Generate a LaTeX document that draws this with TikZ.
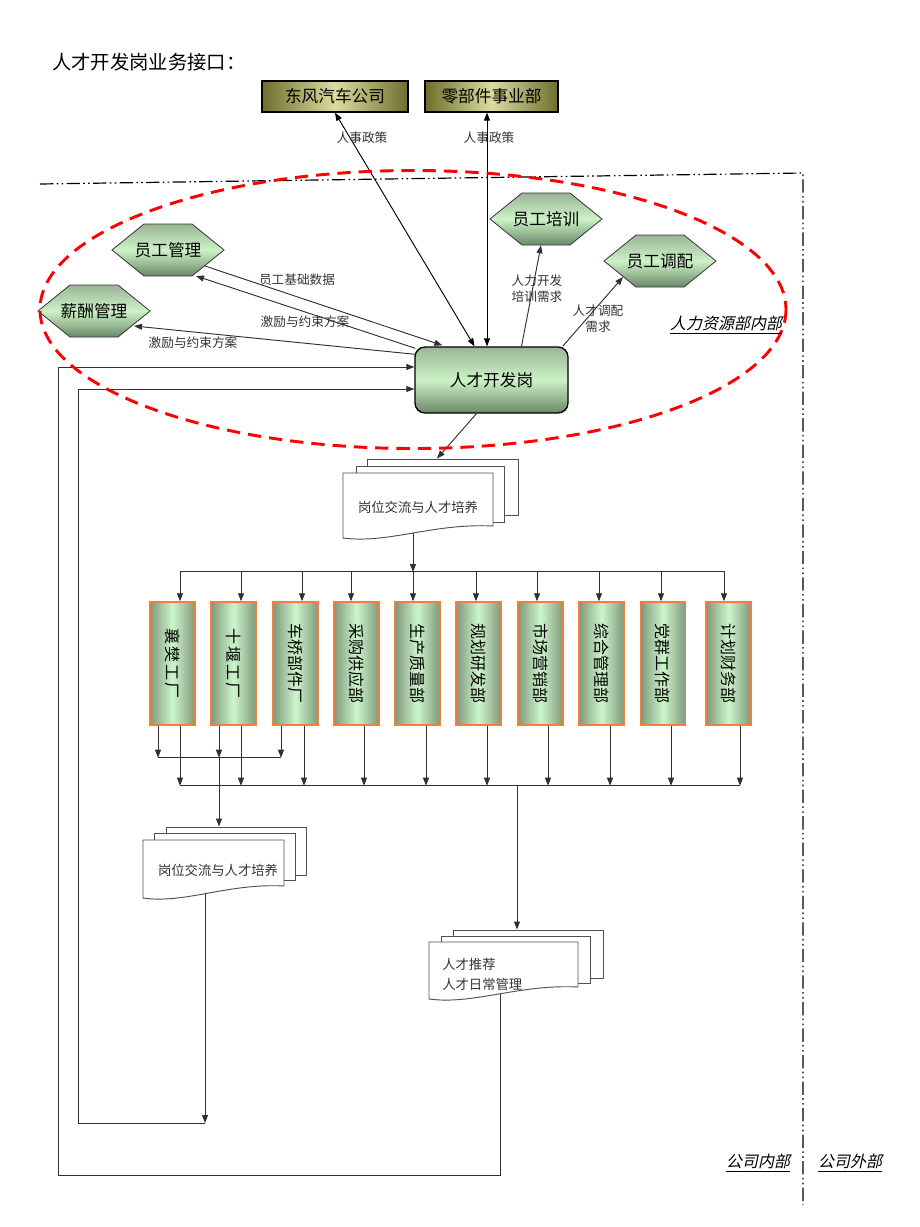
\documentclass[tikz,border=0pt]{standalone}
\usepackage{fontspec}
\setmainfont{Noto Sans CJK SC}
\newfontfamily\slantcjk[FakeSlant=0.22]{Noto Sans CJK SC}
\newfontfamily\widecjk[LetterSpace=14]{Noto Sans CJK SC}
\usetikzlibrary{arrows.meta,calc,backgrounds}
\definecolor{olivedark}{HTML}{6E6E2C}
\definecolor{olivelight}{HTML}{DCDCA0}
\definecolor{gdark}{HTML}{6A8868}
\definecolor{gmid}{HTML}{9AB596}
\definecolor{glight}{HTML}{CCF2C6}
\definecolor{coldark}{HTML}{7E987C}
\definecolor{collight}{HTML}{CDF5CB}
\definecolor{colorange}{HTML}{F0803C}
\definecolor{linegray}{HTML}{303030}
\definecolor{txtgray}{HTML}{333333}
\definecolor{docgray}{HTML}{505050}
\newcommand{\hexat}[4]{%
  \path[hexshape] (#2-56,#3) -- ++(32,-26) -- ++(48,0) -- ++(32,26) -- ++(-32,26) -- ++(-48,0) -- cycle;
  \node[hextext] (#1) at (#2,#3) {#4};}
\newcommand{\docfront}[4]{%
  \path[docshape] (#1,#2) -- (#3,#2) -- (#3,#4-12) .. controls ({#1+0.6*(#3-#1)},#4-15) and ({#1+0.3*(#3-#1)},#4+6) .. (#1,#4) -- cycle;}
\tikzset{
  arr/.style={draw=linegray, line width=0.7pt, -{Triangle[length=6pt,width=4.5pt]}},
  darr/.style={draw=black, line width=0.7pt, {Triangle[length=6pt,width=4.5pt]}-{Triangle[length=6pt,width=4.5pt]}},
  plain/.style={draw=linegray, line width=0.7pt},
  topbox/.style={draw=black, line width=1pt, left color=olivedark, right color=olivedark, middle color=olivelight, minimum height=23.25pt, inner sep=0pt, font=\fontsize{12.5}{15}\selectfont},
  hexshape/.style={draw=black!80, line width=0.6pt, top color=gmid, bottom color=gdark, middle color=glight},
  hextext/.style={inner sep=0pt, minimum width=84pt, minimum height=39pt, font=\fontsize{12.5}{15}\selectfont},
  mainbox/.style={draw=black, line width=1pt, rounded corners=7.5pt, top color=gmid, bottom color=gdark, middle color=glight, minimum width=114.75pt, minimum height=49.5pt, font=\fontsize{12.5}{15}\selectfont},
  colbox/.style={draw=colorange, line width=1.1pt, left color=coldark, right color=coldark, middle color=collight, minimum width=33.75pt, minimum height=92.25pt, inner sep=0pt},
  coltext/.style={rotate=-90, font=\fontsize{12}{14}\selectfont, inner sep=0pt},
  docshape/.style={draw=docgray, line width=0.7pt, fill=white},
  docback/.style={docshape, inner sep=0pt},
  doctext/.style={font=\fontsize{10}{15}\selectfont, text=txtgray, inner sep=0pt},
  lbl/.style={font=\fontsize{9.5}{12}\selectfont, text=txtgray, inner sep=0pt, align=center},
  framestyle/.style={line width=0.9pt, dash pattern=on 10pt off 2.5pt on 1.2pt off 2.5pt on 1.2pt off 2.5pt},
  redell/.style={draw=red, line width=2.2pt, dash pattern=on 10pt off 6pt},
  region/.style={font=\slantcjk\fontsize{12}{14}\selectfont, inner sep=0pt}
}
\begin{document}
\begin{tikzpicture}[x=0.75pt,y=-0.75pt]
\useasboundingbox (0,0) rectangle (920,1227);

% title
\node[anchor=west, inner sep=0pt, font=\fontsize{14.5}{17}\selectfont] (title) at (52,62) {人才开发岗业务接口：};

% top boxes
\node[topbox, minimum width=109.5pt] (df) at (335,96.5) {东风汽车公司};
\node[topbox, minimum width=99.75pt] (bj) at (491.5,96.5) {零部件事业部};

% frame
\draw[framestyle] (40,184) -- (803,173) -- (803,1205);

% hexagons
\hexat{gl}{168}{250}{员工管理}
\hexat{xc}{94}{311}{薪酬管理}
\hexat{px}{546}{219}{员工培训}
\hexat{tp}{660}{261}{员工调配}

% main box
\node[mainbox] (rc) at (491.5,380) {人才开发岗};

% red ellipse
\draw[redell] (413,309.5) ellipse [x radius=373, y radius=139];

% region label
\node[region] (hr) at (726,325) {\underline{人力资源部内部}};

% columns
\foreach \n/\x/\t in {c1/172.5/{\widecjk 襄樊工厂}, c2/233.5/{\widecjk 十堰工厂}, c3/295.5/车桥部件厂, c4/356.5/采购供应部, c5/417.5/生产质量部, c6/478.5/规划研发部, c7/540.5/市场营销部, c8/601.5/综合管理部, c9/663/党群工作部, c10/728.5/计划财务部}{
  \node[colbox] (\n) at (\x,663.5) {};
  \node[coltext] at (\n) {\t};
}

% documents 1
\node[docback, minimum width=113.25pt, minimum height=42pt] (d1b) at (442.5,487) {};
\node[docback, minimum width=111pt, minimum height=42pt] (d1m) at (430,494) {};
\docfront{343}{473}{493}{538}
\node[doctext] (d1) at (418,507) {岗位交流与人才培养};

% documents 2
\node[docback, minimum width=105pt, minimum height=36pt] (d2b) at (236,851) {};
\node[docback, minimum width=105.75pt, minimum height=35.25pt] (d2m) at (224.5,856.5) {};
\docfront{143}{840}{284}{898}
\node[doctext] (d2) at (218,870) {岗位交流与人才培养};

% documents 3
\node[docback, minimum width=112.5pt, minimum height=36pt] (d3b) at (528,954) {};
\node[docback, minimum width=111.75pt, minimum height=35.25pt] (d3m) at (515.5,959.5) {};
\docfront{429}{942}{578}{999}
\node[doctext, anchor=west, align=left] (d3) at (442,974) {人才推荐\\人才日常管理};

% bottom labels
\node[region] (nb) at (758,1163) {\underline{公司内部}};
\node[region] (wb) at (850,1163) {\underline{公司外部}};

% edge labels
\node[lbl] (l1) at (362,138) {人事政策};
\node[lbl] (l2) at (489,138) {人事政策};
\node[lbl] (l3) at (297,280) {员工基础数据};
\node[lbl] (l4) at (305,322) {激励与约束方案};
\node[lbl] (l5) at (193,343) {激励与约束方案};
\node[lbl] (l6) at (537,289) {人力开发\\培训需求};
\node[lbl] (l7) at (598,319) {人才调配\\需求};

\coordinate (loopA) at (205,1123);
\coordinate (loopB) at (78,1123);
\coordinate (loopC) at (58,1175);

\begin{pgfonlayer}{background}
  % top links
  \draw[darr] (df.south) -- ($(rc.north)+(-17,0)$);
  \draw[darr] ($(bj.south)+(-4.5,0)$) -- ($(rc.north)+(-4.5,0)$);
  \draw[arr] ($(rc.north)+(30,0)$) -- ($(px.south)+(-5,0)$);
  \draw[arr] ($(rc.north east)+(-6,0)$) -- ($(tp.center)+(-37,16)$);
  \draw[arr] ($(gl.center)+(37,16)$) -- ($(rc.north west)+(28,-1)$);
  \draw[arr] ($(rc.north west)+(1,2)$) -- ($(gl.center)+(28,26)$);
  \draw[arr] ($(rc.north west)+(1,8)$) -- ($(xc.center)+(40,15)$);
  % to doc 1
  \draw[arr] ($(rc.south)+(-15,0)$) -- ($(d1b.north)+(-5.5,0)$);
  \draw[arr] ($(d1)+(-5,20)$) -- ($(d1)+(-5,65)$);
  % top bus
  \draw[plain] ($(c1.north)+(7.5,-30)$) -- ($(c10.north)+(-4.5,-30)$);
  \foreach \n/\dx in {c1/7.5, c2/7.5, c3/6.5, c4/-5.5, c5/-4.5, c6/-2.5, c7/-3.5, c8/-2.5, c9/-2, c10/-4.5}{
    \draw[arr] ($(\n.north)+(\dx,-30)$) -- ($(\n.north)+(\dx,0)$);
  }
  % small bus
  \draw[arr] ($(c1.south)+(-14.5,0)$) -- ++(0,32);
  \draw[arr] ($(c2.south)+(-14.5,0)$) -- ++(0,32);
  \draw[arr] ($(c3.south)+(-14.5,0)$) -- ++(0,32);
  \draw[plain] ($(c1.south)+(-14.5,32)$) -- ($(c3.south)+(-14.5,32)$);
  \draw[arr] ($(c2.south)+(-14.5,32)$) -- ($(d2b.north)+(-17,0)$);
  % lower bus
  \foreach \n/\dx in {c1/7.5, c2/7.5, c3/8.5, c4/7.5, c5/8.5, c6/8.5, c7/7.5, c8/8.5, c9/8, c10/11.5}{
    \draw[arr] ($(\n.south)+(\dx,0)$) -- ++(0,60);
  }
  \draw[plain] ($(c1.south)+(7.5,60)$) -- ($(c10.south)+(11.5,60)$);
  \draw[arr] ($(c6.south)+(38.5,60)$) -- ($(d3b.north)+(-11,0)$);
  % loops back
  \draw[arr] ($(d2)+(-13,20)$) -- (loopA);
  \draw[arr] (loopA) -- (loopB) |- ($(rc.west)+(0,9)$);
  \draw[arr] ($(d3b.south)+(-28,0)$) |- (loopC) |- ($(rc.west)+(0,-13)$);
\end{pgfonlayer}
\end{tikzpicture}
\end{document}
